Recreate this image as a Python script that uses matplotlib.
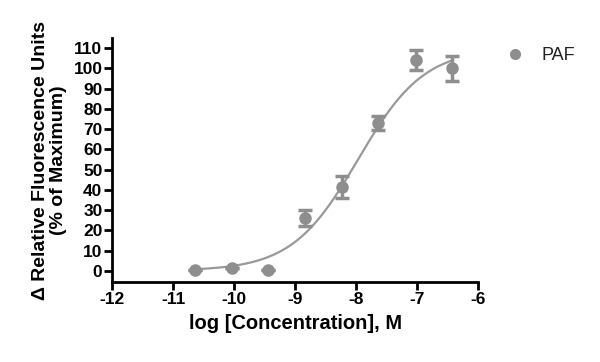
import numpy as np
import matplotlib
matplotlib.use("Agg")
import matplotlib.pyplot as plt
from matplotlib.lines import Line2D

# log concentration (M), response (% of max), SEM
log_conc = [-10.64, -10.03, -9.44, -8.84, -8.23, -7.64, -7.02, -6.43]
response = [0.5, 1.2, 0.3, 26.0, 41.5, 73.0, 104.0, 100.0]
sem = [0.0, 0.0, 0.0, 4.0, 5.5, 3.5, 5.0, 6.0]

# 4PL fit parameters
fit_bottom = 0.0
fit_top = 110.0
fit_logec50 = -7.97
fit_hill = 0.8

gray = "#8e8e8e"
plt.rcParams["font.family"] = ["Liberation Sans", "DejaVu Sans"]

fig = plt.figure(figsize=(6, 3.62), dpi=100)
ax = fig.add_axes([0.187, 0.221, 0.61, 0.674])

xs = np.linspace(min(log_conc), max(log_conc), 200)
ys = fit_bottom + (fit_top - fit_bottom) / (1 + 10 ** ((fit_logec50 - xs) * fit_hill))
ax.plot(xs, ys, color="#999999", lw=1.6, zorder=2)

ax.errorbar(log_conc, response, yerr=sem, fmt="o", color=gray, ms=8,
            ecolor=gray, elinewidth=2.5, capsize=5, capthick=2.5, zorder=3)

ax.set_xlim(-12, -6)
ax.set_ylim(-5.5, 115)
ax.set_xticks(range(-12, -5))
ax.set_xticklabels([str(v) for v in range(-12, -5)])
ax.set_yticks(range(0, 111, 10))

for s in ["top", "right"]:
    ax.spines[s].set_visible(False)
for s in ["left", "bottom"]:
    ax.spines[s].set_linewidth(2)
ax.tick_params(width=2, length=6, direction="out", labelsize=12.5, pad=1)
for lab in ax.get_xticklabels() + ax.get_yticklabels():
    lab.set_fontweight("bold")

ax.set_xlabel("log [Concentration], M", fontsize=14.5, fontweight="bold", labelpad=5)
ax.set_ylabel("\u0394 Relative Fluorescence Units\n(% of Maximum)", fontsize=14,
              fontweight="bold", labelpad=5, linespacing=1.05)

handle = Line2D([], [], ls="none", marker="o", color=gray, ms=7)
leg = ax.legend([handle], ["PAF"], loc="upper left", bbox_to_anchor=(1.02, 1.03),
                frameon=False, fontsize=13, handletextpad=0.7, handlelength=1.5)
for t in leg.get_texts():
    t.set_color("#222222")

fig.savefig("out.png", dpi=100)
